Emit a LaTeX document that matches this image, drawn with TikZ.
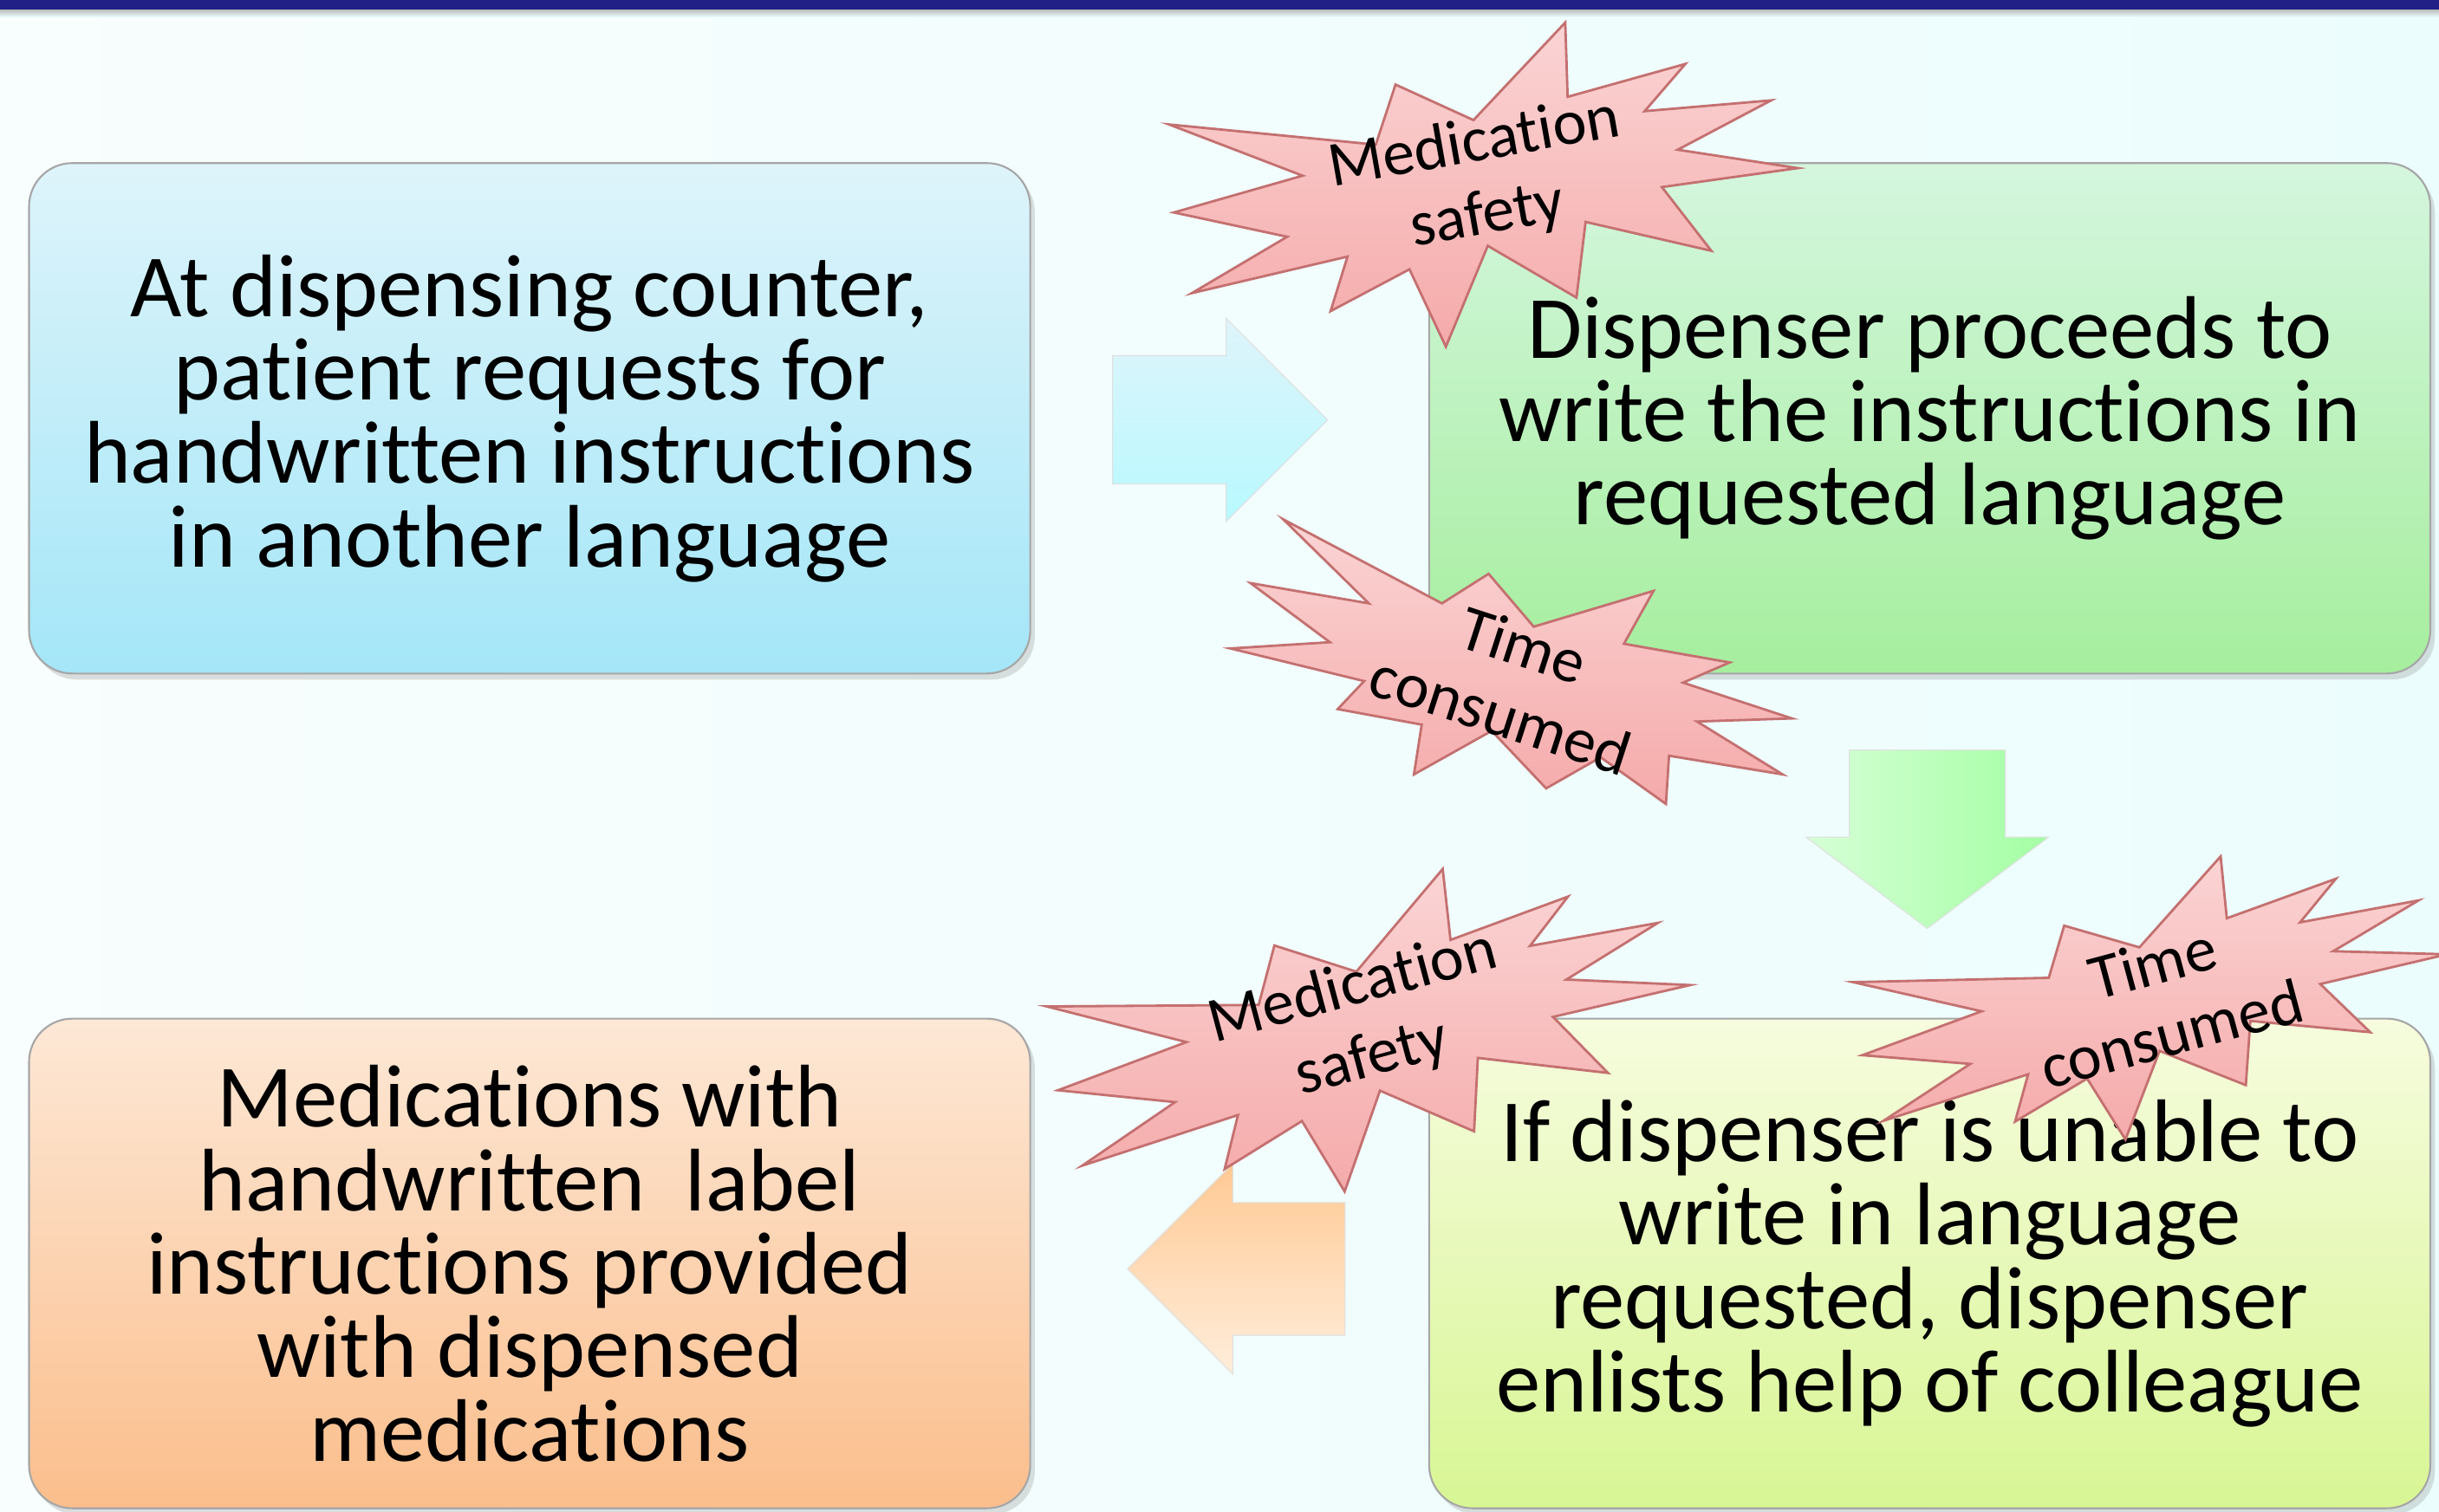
\documentclass[tikz,border=0pt]{standalone}
\usepackage{fontspec}
\setmainfont{Carlito}[RawFeature={-liga;-clig;-dlig}]
\usetikzlibrary{positioning}
\usetikzlibrary{shapes.arrows}
\usetikzlibrary{shadows}

\definecolor{barnavy}{RGB}{32,32,134}
\definecolor{pagewhite}{RGB}{248,253,253}
\definecolor{pagecyan}{RGB}{236,253,253}
\definecolor{blueTop}{RGB}{222,244,250}
\definecolor{blueBot}{RGB}{164,230,248}
\definecolor{greenTop}{RGB}{212,246,222}
\definecolor{greenBot}{RGB}{166,238,158}
\definecolor{limeTop}{RGB}{246,252,222}
\definecolor{limeBot}{RGB}{216,246,148}
\definecolor{peachTop}{RGB}{253,232,214}
\definecolor{peachBot}{RGB}{251,190,140}
\definecolor{burstTop}{RGB}{251,212,212}
\definecolor{burstBot}{RGB}{245,170,170}
\definecolor{burstEdge}{RGB}{196,112,112}

% Explosion outline, normalised to [-1,1]
\newcommand{\explosion}{(0,-0.463) -- (0.345,-1) -- (0.311,-0.507) -- (0.702,-0.587) -- (0.547,-0.323) -- (0.953,-0.247) -- (0.630,-0.030) -- (1,0.231) -- (0.559,0.198) -- (0.680,0.676) -- (0.298,0.339) -- (0.227,0.828) -- (-0.025,0.383) -- (-0.214,1) -- (-0.286,0.447) -- (-0.559,0.631) -- (-0.475,0.291) -- (-0.988,0.351) -- (-0.655,0.090) -- (-1,-0.202) -- (-0.572,-0.295) -- (-0.966,-0.788) -- (-0.323,-0.415) -- (-0.227,-0.788) -- cycle}

\begin{document}
\begin{tikzpicture}[
  x=0.017946cm, y=-0.017946cm,
  stepbox/.style={rectangle, rounded corners=0.5cm, draw=gray!70, line width=0.6pt, align=center,
    font=\fontsize{29.2}{27.4}\selectfont, inner sep=0pt, minimum width=11.55cm,
    drop shadow={shadow xshift=1.5pt, shadow yshift=-2pt, opacity=0.25}},
  flow/.style={single arrow, draw=gray!25, line width=0.3pt, inner xsep=0pt, anchor=tail, single arrow tip angle=90},
  burst/.style={draw=burstEdge, line width=0.8pt, top color=burstTop, bottom color=burstBot, line join=miter},
  burstlabel/.style={align=center, inner sep=0pt, font=\fontsize{21}{24}\selectfont}
]
\useasboundingbox (0,0) rectangle (1568,972);
\fill[left color=pagewhite, right color=pagecyan] (0,0) rectangle (1568,972);
\fill[top color=gray!55, bottom color=pagecyan] (0,6) rectangle (1568,11);
\fill[barnavy] (0,0) rectangle (1568,6);

% Steps
\node[stepbox, minimum height=5.89cm, top color=blueTop, bottom color=blueBot] (request) at (340.5,269)
  {At dispensing counter,\\patient requests for\\handwritten instructions\\in another language};
\node[stepbox, minimum height=5.89cm, top color=greenTop, bottom color=greenBot, right=4.58cm of request] (write)
  {Dispenser proceeds to\\write the instructions in\\requested language};
\node[stepbox, minimum height=5.65cm, top color=peachTop, bottom color=peachBot] (provide) at (340.5,812.5)
  {Medications with\\handwritten~ label\\instructions provided\\with dispensed\\medications};
\node[stepbox, minimum height=5.65cm, top color=limeTop, bottom color=limeBot, right=4.58cm of provide] (colleague)
  {If dispenser is unable to\\write in language\\requested, dispenser\\enlists help of colleague};

% Flow arrows
\node[flow, minimum height=2.48cm, inner ysep=0.735cm, single arrow head extend=0.43cm,
  top color=blueTop, bottom color=blue!8!cyan!28!white] (toWrite) at (715,270) {};
\node[flow, minimum height=2.06cm, inner ysep=0.895cm, single arrow head extend=0.5cm,
  single arrow tip angle=106, rotate=-90,
  left color=green!16!white, right color=green!36!white] (toColleague) at (1239,482) {};
\node[flow, minimum height=2.51cm, inner ysep=0.76cm, single arrow head extend=0.45cm,
  rotate=180, top color=orange!42!white, bottom color=orange!14!white] (toProvide) at (865,816) {};

% Bursts
\begin{scope}[shift={(955,121)}, rotate=10, xscale=200, yscale=96]
  \draw[burst] \explosion;
\end{scope}
\node[burstlabel, rotate=10] (safetyTop) at (952,116) {Medication\\safety};

\draw[burst] (825,334) -- (880,388) -- (804,375) -- (855,413) -- (791,417) -- (877,438)
  -- (860,456) -- (914,466) -- (909,498) -- (959,470) -- (994,507) -- (1029,487)
  -- (1071,517) -- (1073,486) -- (1146,498) -- (1091,464) -- (1152,462) -- (1082,439)
  -- (1112,426) -- (1044,414) -- (1063,380) -- (986,403) -- (957,369) -- (927,388) -- cycle;
\node[burstlabel, rotate=-18] (timeTop) at (972,437) {Time\\consumed};

\begin{scope}[shift={(883,666)}, rotate=15, xscale=205, yscale=92]
  \draw[burst] \explosion;
\end{scope}
\node[burstlabel, rotate=15] (safetyBottom) at (876,658) {Medication\\safety};

\begin{scope}[shift={(1385,645)}, rotate=15, xscale=190, yscale=80]
  \draw[burst] \explosion;
\end{scope}
\node[burstlabel, rotate=15] (timeBottom) at (1390,642) {Time\\consumed};

\end{tikzpicture}
\end{document}
